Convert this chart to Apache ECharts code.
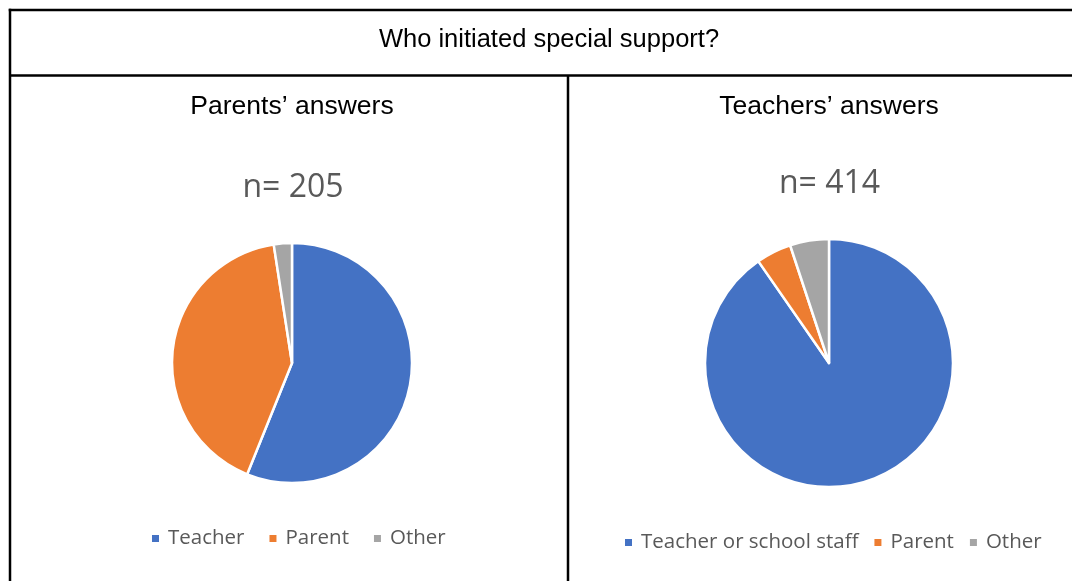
<!DOCTYPE html>
<html>
<head>
<meta charset="utf-8">
<script src="https://cdn.jsdelivr.net/npm/echarts@6/dist/echarts.min.js"></script>
<style>
html,body{margin:0;padding:0;background:#fff;}
#chart{width:1072px;height:581px;}
</style>
</head>
<body>
<div id="chart"></div>
<script>
const mainTitle = 'Who initiated special support?';
const parentTitle = 'Parents\u2019 answers';
const teacherTitle = 'Teachers\u2019 answers';
const parentN = 'n= 205';
const teacherN = 'n= 414';
const parentCategories = ['Teacher', 'Parent', 'Other'];
const parentValues = [115, 85, 5];
const teacherCategories = ['Teacher or school staff', 'Parent', 'Other'];
const teacherValues = [374, 19, 21];
const colors = ['#4472C4', '#ED7D31', '#A5A5A5'];

const chart = echarts.init(document.getElementById('chart'));
const lineStyle = { stroke: '#000', lineWidth: 2.5 };
const legendText = { fontFamily: 'Open Sans', fontSize: 20.5, color: '#595959', padding: [0, 0, 0, 3] };

chart.setOption({
  animation: false,
  color: colors,
  title: [
    { text: mainTitle, left: 549, top: 27, textAlign: 'center', padding: 0,
      textStyle: { fontFamily: 'Liberation Sans', fontSize: 25.5, fontWeight: 'normal', color: '#000' } },
    { text: parentTitle, left: 292, top: 93, textAlign: 'center', padding: 0,
      textStyle: { fontFamily: 'Liberation Sans', fontSize: 26.5, fontWeight: 'normal', color: '#000' } },
    { text: teacherTitle, left: 829, top: 93, textAlign: 'center', padding: 0,
      textStyle: { fontFamily: 'Liberation Sans', fontSize: 26.5, fontWeight: 'normal', color: '#000' } },
    { text: parentN, left: 293, top: 172, textAlign: 'center', padding: 0,
      textStyle: { fontFamily: 'Open Sans', fontSize: 32, fontWeight: 'normal', color: '#595959' } },
    { text: teacherN, left: 829.5, top: 168, textAlign: 'center', padding: 0,
      textStyle: { fontFamily: 'Open Sans', fontSize: 32, fontWeight: 'normal', color: '#595959' } }
  ],
  legend: [
    { data: parentCategories, left: 150, top: 528, padding: 0, icon: 'rect', itemWidth: 9, itemHeight: 9, itemGap: 23,
      textStyle: legendText, selectedMode: false },
    { data: teacherCategories, left: 623, top: 532, padding: 0, icon: 'rect', itemWidth: 9, itemHeight: 9, itemGap: 14,
      textStyle: legendText, selectedMode: false }
  ],
  series: [
    { type: 'pie', center: [292, 363], radius: 120, startAngle: 90, clockwise: true,
      label: { show: false }, labelLine: { show: false }, silent: true,
      itemStyle: { borderColor: '#fff', borderWidth: 2.5 },
      data: parentCategories.map((c, i) => ({ name: c, value: parentValues[i], itemStyle: { color: colors[i] } })) },
    { type: 'pie', center: [829, 363], radius: 124, startAngle: 90, clockwise: true,
      label: { show: false }, labelLine: { show: false }, silent: true,
      itemStyle: { borderColor: '#fff', borderWidth: 2.5 },
      data: teacherCategories.map((c, i) => ({ name: c, value: teacherValues[i], itemStyle: { color: colors[i] } })) }
  ],
  graphic: [
    { type: 'line', shape: { x1: 8.75, y1: 10, x2: 1080, y2: 10 }, style: lineStyle },
    { type: 'line', shape: { x1: 10, y1: 8.75, x2: 10, y2: 590 }, style: lineStyle },
    { type: 'line', shape: { x1: 10, y1: 75.5, x2: 1080, y2: 75.5 }, style: lineStyle },
    { type: 'line', shape: { x1: 568, y1: 75.5, x2: 568, y2: 590 }, style: lineStyle }
  ]
});
</script>
</body>
</html>
